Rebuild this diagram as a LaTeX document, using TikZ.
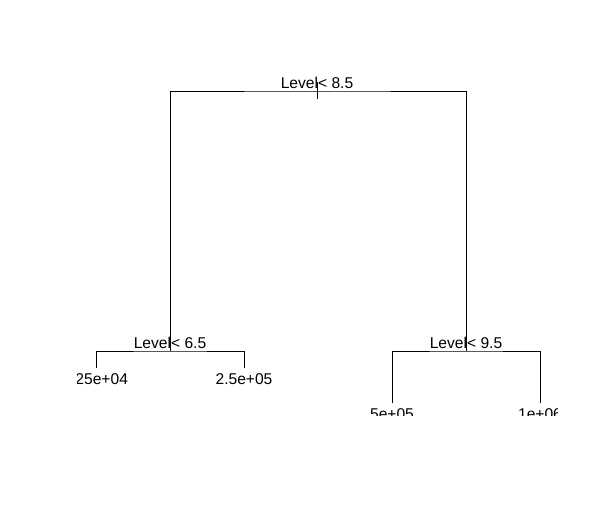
\documentclass[tikz,border=0pt]{standalone}
\usepackage{fontspec}
\setmainfont{Liberation Sans}
\usetikzlibrary{positioning}

\begin{document}
\begin{tikzpicture}[x=1pt,y=-1pt,line width=0.9pt,
 lbl/.style={font=\fontsize{15.6}{18}\selectfont,anchor=base,inner sep=0pt},
 leaf/.style={lbl}]
\useasboundingbox[fill=white] (0,0) rectangle (598,514);
\begin{scope}
\clip (77,0) rectangle (557,415);
% split points and leaf ends
\coordinate (root) at (317,91);
\coordinate (rtop) at (317,82);
\coordinate (rbot) at (317,99);
\coordinate (lsplit) at (170,351);
\coordinate (rsplit) at (466,351);
\coordinate (leafa) at (96,368);
\coordinate (leafb) at (244,368);
\coordinate (leafc) at (392,403);
\coordinate (leafd) at (540,403);
\draw (lsplit) |- (root) -| (rsplit);
\draw (rtop) -- (rbot);
\draw (leafa) |- (lsplit) -| (leafb);
\draw (leafc) |- (rsplit) -| (leafd);
% labels
\node[lbl] (troot) at (317,88) {Level< 8.5};
\node[lbl] (tleft) at (170,348) {Level< 6.5};
\node[lbl] (tright) at (466,348) {Level< 9.5};
\node[leaf,anchor=base west] (ta) at (75,384) {25e+04};
\node[leaf] (tb) at (244,384) {2.5e+05};
\node[leaf] (tc) at (392,419) {5e+05};
\node[leaf] (td) at (540,419) {1e+06};
\end{scope}
\end{tikzpicture}
\end{document}
